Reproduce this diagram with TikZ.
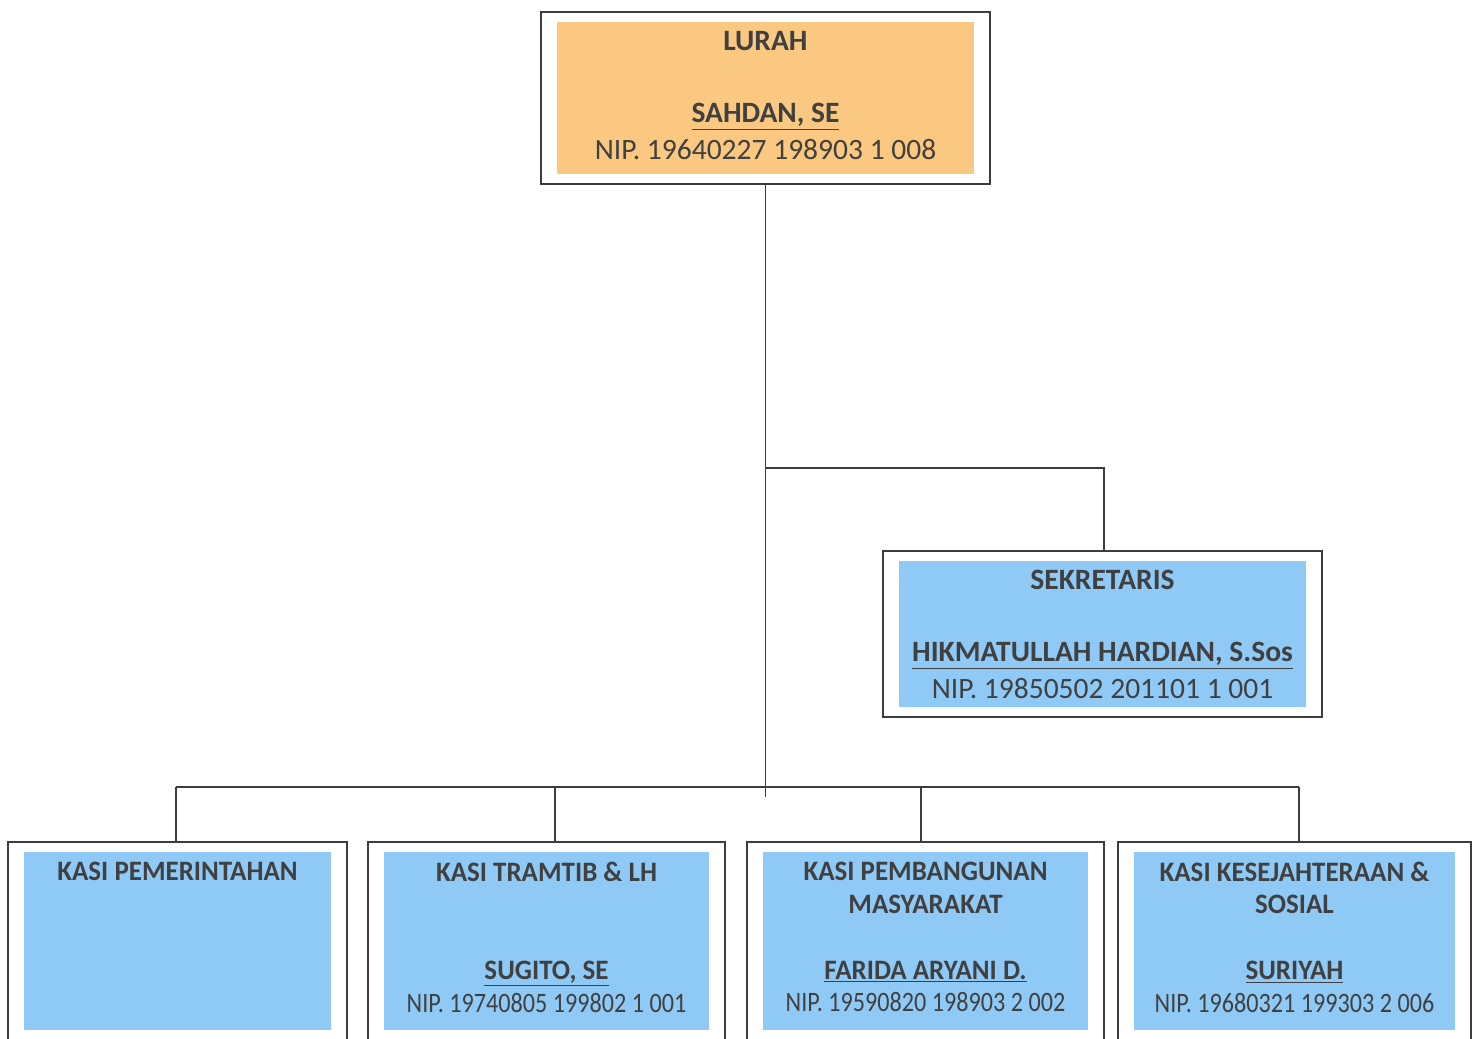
\documentclass[tikz,border=0pt]{standalone}
\usepackage{fontspec}
\setmainfont{Carlito}
\newfontfamily\sempit[FakeStretch=0.86]{Carlito}
\newfontfamily\agaksempit[FakeStretch=0.96]{Carlito}
\definecolor{isijingga}{RGB}{250,200,128}
\definecolor{isibiru}{RGB}{143,202,246}
\definecolor{teks}{RGB}{64,64,64}
\definecolor{garisabu}{RGB}{60,60,60}
\def\u{0.02cm}
% inner coloured panel of a box
\newcommand{\isian}[1]{\fill[#1] ([shift={(16*\u,10*\u)}]path picture bounding box.south west)
  rectangle ([shift={(-16*\u,-10*\u)}]path picture bounding box.north east);}
\newcommand{\judul}[1]{{\agaksempit\bfseries #1}}
\begin{document}
\begin{tikzpicture}[x=0.02cm,y=-0.02cm]
  \tikzstyle{kotak}=[rectangle, draw=garisabu, line width=0.7pt, fill=white,
  align=center, text=teks, inner sep=0pt]
  \tikzstyle{atas}=[kotak, text depth=6*\u, font={\fontsize{16.8}{20.7}\selectfont}]
  \tikzstyle{bawah}=[kotak, minimum height=198*\u, text depth=8*\u,
  path picture={\isian{isibiru}}, font={\sempit\fontsize{16}{18.7}\selectfont}]
  \tikzstyle{garis}=[draw=garisabu, line width=0.7pt]
  \clip (0,0) rectangle (1476,1038);
  \fill[white] (0,0) rectangle (1476,1038);

  \node[atas, minimum width=449*\u, minimum height=172*\u,
    path picture={\isian{isijingga}}] (lurah) at (765.5,98)
    {\textbf{LURAH}\\ \mbox{}\\ \textbf{\underline{SAHDAN, SE}}\\ NIP. 19640227 198903 1 008};
  \node[atas, text depth=0pt, minimum width=439*\u, minimum height=166*\u,
    path picture={\isian{isibiru}}] (sekr) at (1102.5,634)
    {\textbf{SEKRETARIS}\\ \mbox{}\\ \textbf{\underline{HIKMATULLAH HARDIAN, S.Sos}}\\ NIP. 19850502 201101 1 001};

  \node[bawah, minimum width=339*\u] (kasi1) at (177.5,941)
    {\judul{KASI PEMERINTAHAN}\\ \phantom{N}\\ \phantom{N}\\ \phantom{N}\\ \phantom{NIP. 1}};
  \node[bawah, minimum width=357*\u] (kasi2) at (546.5,941)
    {\judul{KASI TRAMTIB \& LH}\\ \phantom{N}\\ \phantom{N}\\ \judul{\underline{SUGITO, SE}}\\ NIP. 19740805 199802 1 001};
  \node[bawah, minimum width=357*\u] (kasi3) at (925.5,941)
    {\judul{KASI PEMBANGUNAN}\\ \judul{MASYARAKAT}\\ \phantom{N}\\ \judul{\underline{FARIDA ARYANI D.}}\\ NIP. 19590820 198903 2 002};
  \node[bawah, minimum width=353*\u] (kasi4) at (1294.5,941)
    {\judul{KASI KESEJAHTERAAN \&}\\ \judul{SOSIAL}\\ \phantom{N}\\ \judul{\underline{SURIYAH}}\\ NIP. 19680321 199303 2 006};

  \coordinate (cabang) at (lurah.south |- 0,468);
  \coordinate (pusat) at (lurah.south |- 0,787);
  \draw[garis] (lurah.south) -- ([yshift=-10*\u]pusat);
  \draw[garis] (cabang) -| ([xshift=1.5*\u]sekr.north);
  \draw[garis] ([xshift=-1.5*\u]kasi1.north |- pusat) -- ([xshift=4.5*\u]kasi4.north |- pusat);
  \foreach \n/\d in {kasi1/-1.5,kasi2/8.5,kasi3/-4.5,kasi4/4.5} {
    \draw[garis] ([xshift=\d*\u]\n.north |- pusat) -- ([xshift=\d*\u]\n.north);
  }
\end{tikzpicture}
\end{document}
